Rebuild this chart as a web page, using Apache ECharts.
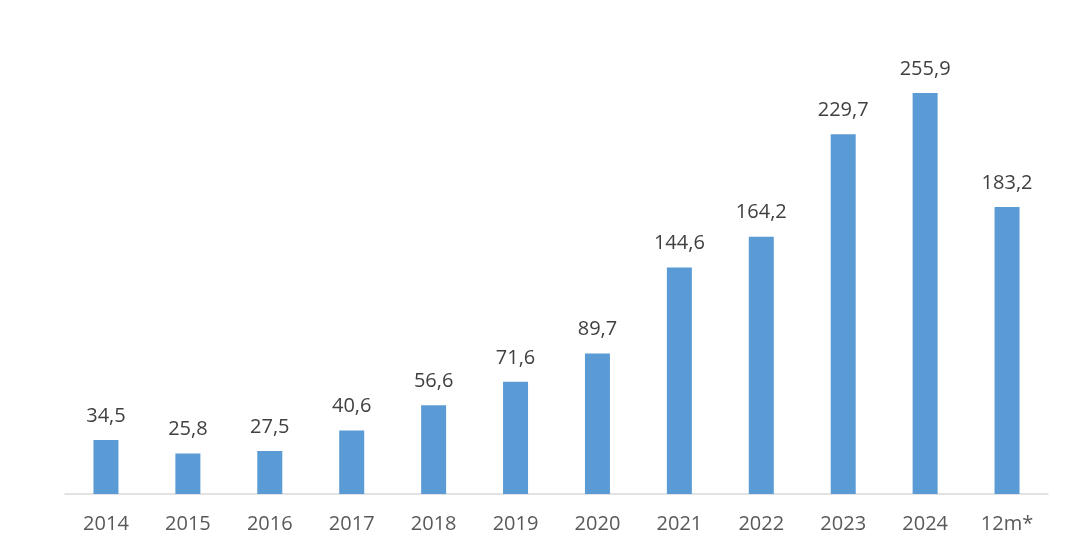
<!DOCTYPE html>
<html><head><meta charset="utf-8">
<script src="https://cdn.jsdelivr.net/npm/echarts@6/dist/echarts.min.js"></script>
<style>html,body{margin:0;padding:0;background:#fff}#c{width:1080px;height:540px}</style>
</head><body><div id="c"></div>
<script>
const categories = ['2014','2015','2016','2017','2018','2019','2020','2021','2022','2023','2024','12m*'];
const values = [34.5, 25.8, 27.5, 40.6, 56.6, 71.6, 89.7, 144.6, 164.2, 229.7, 255.9, 183.2];
const chart = echarts.init(document.getElementById('c'));
chart.setOption({
  animation: false,
  grid: {left: 65, right: 32, top: 24, bottom: 46},
  xAxis: {
    type: 'category', data: categories,
    axisLine: {lineStyle: {color: '#d9d9d9', width: 1.5}},
    axisTick: {show: false},
    axisLabel: {color: '#595959', fontSize: 20, fontFamily: 'Open Sans', margin: 20}
  },
  yAxis: {type: 'value', min: 0, max: 300, show: false, splitLine: {show: false}},
  series: [{
    type: 'bar', data: values, barWidth: 25,
    itemStyle: {color: '#5b9bd5'},
    label: {show: true, position: 'top', distance: 14, color: '#404040', fontSize: 20, fontFamily: 'Open Sans',
      formatter: p => p.value.toFixed(1).replace('.', ',')}
  }]
});
</script></body></html>
